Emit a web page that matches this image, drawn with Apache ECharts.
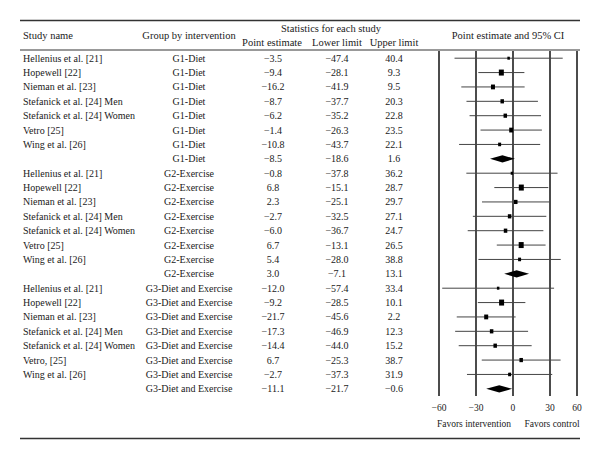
<!DOCTYPE html>
<html>
<head>
<meta charset="utf-8">
<script src="https://cdn.jsdelivr.net/npm/echarts@6/dist/echarts.min.js"></script>
<style>html,body{margin:0;padding:0;background:#fff}#c{width:600px;height:460px}</style>
</head>
<body>
<div id="c"></div>
<script>
// ---- data ----
var studyNames = [
  "Hellenius et al. [21]","Hopewell [22]","Nieman et al. [23]","Stefanick et al. [24] Men","Stefanick et al. [24] Women","Vetro [25]","Wing et al. [26]","",
  "Hellenius et al. [21]","Hopewell [22]","Nieman et al. [23]","Stefanick et al. [24] Men","Stefanick et al. [24] Women","Vetro [25]","Wing et al. [26]","",
  "Hellenius et al. [21]","Hopewell [22]","Nieman et al. [23]","Stefanick et al. [24] Men","Stefanick et al. [24] Women","Vetro, [25]","Wing et al. [26]",""
];
var groups = [
  "G1-Diet","G1-Diet","G1-Diet","G1-Diet","G1-Diet","G1-Diet","G1-Diet","G1-Diet",
  "G2-Exercise","G2-Exercise","G2-Exercise","G2-Exercise","G2-Exercise","G2-Exercise","G2-Exercise","G2-Exercise",
  "G3-Diet and Exercise","G3-Diet and Exercise","G3-Diet and Exercise","G3-Diet and Exercise","G3-Diet and Exercise","G3-Diet and Exercise","G3-Diet and Exercise","G3-Diet and Exercise"
];
var pointEstimates = [-3.5,-9.4,-16.2,-8.7,-6.2,-1.4,-10.8,-8.5, -0.8,6.8,2.3,-2.7,-6.0,6.7,5.4,3.0, -12.0,-9.2,-21.7,-17.3,-14.4,6.7,-2.7,-11.1];
var lowerLimits = [-47.4,-28.1,-41.9,-37.7,-35.2,-26.3,-43.7,-18.6, -37.8,-15.1,-25.1,-32.5,-36.7,-13.1,-28.0,-7.1, -57.4,-28.5,-45.6,-46.9,-44.0,-25.3,-37.3,-21.7];
var upperLimits = [40.4,9.3,9.5,20.3,22.8,23.5,22.1,1.6, 36.2,28.7,29.7,27.1,24.7,26.5,38.8,13.1, 33.4,10.1,2.2,12.3,15.2,38.7,31.9,-0.6];
// relative study weight shown as marker size; 0 = pooled (summary) row
var studyWeights = [2.5,5,4,3.5,3.5,4,3,0, 2.5,5,3.5,3.5,3.5,5,3,0, 2.5,5,4,3.5,3.5,3.5,3,0];
var tickValues = [-60,-30,0,30,60];

// ---- helpers ----
var FONT = "'Liberation Serif', 'DejaVu Serif', serif";
var TXT = '#1a1a1a';
function fmt(v){ return (v < 0 ? '\u2212' : '') + Math.abs(v).toFixed(1); }
var rowIds = studyNames.map(function(_, i){ return String(i); });

var seriesData = pointEstimates.map(function(p, i){
  return [p, lowerLimits[i], upperLimits[i], i, studyWeights[i]];
});

var xMax = 52; // plot frame ends before the last labelled tick, as in the source figure

function textAxis(offset, align, arr){
  return {
    type: 'category', gridIndex: 0, position: 'left', offset: offset, inverse: true,
    data: rowIds,
    axisLine: {show: false}, axisTick: {show: false}, splitLine: {show: false},
    axisLabel: {
      interval: 0, margin: 0, align: align, color: TXT, fontFamily: FONT, fontSize: 10,
      formatter: function(v, i){ return arr[i]; }
    }
  };
}

var chart = echarts.init(document.getElementById('c'), null, {renderer: 'svg'});
chart.setOption({
  animation: false,
  backgroundColor: '#fff',
  grid: {left: 439, width: 138, top: 51, height: 345},
  xAxis: {
    type: 'value', min: -60, max: xMax, interval: 30,
    axisLine: {show: false}, axisTick: {show: false},
    splitLine: {show: true, showMinLine: true, showMaxLine: true, lineStyle: {color: '#111', width: 1.5}},
    axisLabel: {
      margin: 7, color: TXT, fontFamily: FONT, fontSize: 9.5, showMinLabel: true, showMaxLabel: true,
      formatter: function(v){
        var t = v >= xMax ? tickValues[tickValues.length - 1] : v;
        return (t < 0 ? '\u2212' : '') + Math.abs(t);
      }
    }
  },
  yAxis: [
    {type: 'category', data: rowIds, inverse: true, axisLine: {show: false}, axisTick: {show: false}, axisLabel: {show: false}, splitLine: {show: false}},
    textAxis(416, 'left', studyNames),
    textAxis(250, 'center', groups),
    textAxis(166, 'center', pointEstimates.map(fmt)),
    textAxis(102, 'center', lowerLimits.map(fmt)),
    textAxis(45, 'center', upperLimits.map(fmt))
  ],
  series: [{
    type: 'custom',
    xAxisIndex: 0, yAxisIndex: 0,
    data: seriesData,
    encode: {x: [0, 1, 2], y: 3},
    clip: false,
    renderItem: function(params, api){
      var p = api.value(0), lo = api.value(1), hi = api.value(2), row = api.value(3), w = api.value(4);
      var c = api.coord([p, row]);
      var cl = api.coord([lo, row]);
      var ch = api.coord([hi, row]);
      if (w === 0) {
        var h = 3.6;
        return {
          type: 'polygon',
          shape: {points: [[cl[0], c[1]], [c[0], c[1] - h], [ch[0], c[1]], [c[0], c[1] + h]]},
          style: {fill: '#000'}
        };
      }
      return {
        type: 'group',
        children: [
          {type: 'line', shape: {x1: cl[0], y1: c[1], x2: ch[0], y2: c[1]}, style: {stroke: '#444', lineWidth: 1}},
          {type: 'rect', shape: {x: c[0] - w / 2, y: c[1] - w * 0.6, width: w, height: w * 1.2}, style: {fill: '#000'}}
        ]
      };
    }
  }],
  graphic: [
    {type: 'line', shape: {x1: 20, y1: 20.5, x2: 580, y2: 20.5}, style: {stroke: '#333', lineWidth: 1.3}},
    {type: 'line', shape: {x1: 20, y1: 50, x2: 580, y2: 50}, style: {stroke: '#999', lineWidth: 2}},
    {type: 'line', shape: {x1: 20, y1: 438.5, x2: 580, y2: 438.5}, style: {stroke: '#333', lineWidth: 1.3}},
    {type: 'text', x: 23, y: 35, style: {text: 'Study name', fill: TXT, font: '10.5px ' + FONT, textAlign: 'left', textVerticalAlign: 'middle'}},
    {type: 'text', x: 189, y: 35, style: {text: 'Group by intervention', fill: TXT, font: '10.5px ' + FONT, textAlign: 'center', textVerticalAlign: 'middle'}},
    {type: 'text', x: 331, y: 28, style: {text: 'Statistics for each study', fill: TXT, font: '10.5px ' + FONT, textAlign: 'center', textVerticalAlign: 'middle'}},
    {type: 'text', x: 272, y: 42.5, style: {text: 'Point estimate', fill: TXT, font: '10.5px ' + FONT, textAlign: 'center', textVerticalAlign: 'middle'}},
    {type: 'text', x: 337, y: 42.5, style: {text: 'Lower limit', fill: TXT, font: '10.5px ' + FONT, textAlign: 'center', textVerticalAlign: 'middle'}},
    {type: 'text', x: 394, y: 42.5, style: {text: 'Upper limit', fill: TXT, font: '10.5px ' + FONT, textAlign: 'center', textVerticalAlign: 'middle'}},
    {type: 'text', x: 508, y: 35, style: {text: 'Point estimate and 95% CI', fill: TXT, font: '10.5px ' + FONT, textAlign: 'center', textVerticalAlign: 'middle'}},
    {type: 'text', x: 474, y: 424, style: {text: 'Favors intervention', fill: TXT, font: '9.5px ' + FONT, textAlign: 'center', textVerticalAlign: 'middle'}},
    {type: 'text', x: 552, y: 424, style: {text: 'Favors control', fill: TXT, font: '9.5px ' + FONT, textAlign: 'center', textVerticalAlign: 'middle'}}
  ]
});
</script>
</body>
</html>
